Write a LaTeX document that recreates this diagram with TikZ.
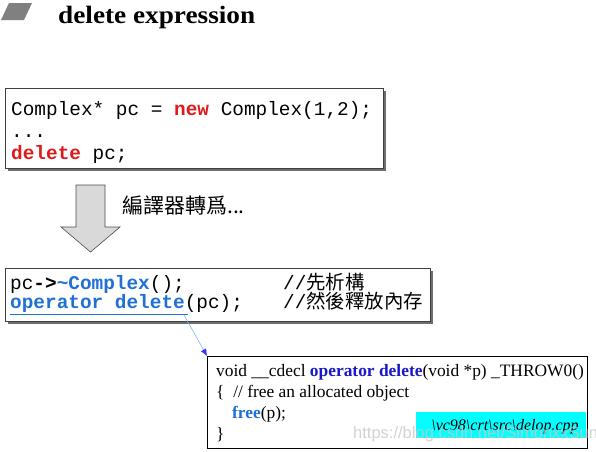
\documentclass[tikz,border=0pt]{standalone}
\usepackage{fontspec}
\setmainfont{Liberation Serif}
\newfontfamily\titlefont[FakeStretch=1.09]{Liberation Serif}
\newfontfamily\codefont{Liberation Mono}
\newfontfamily\cjk{Noto Sans CJK TC}
\newfontfamily\wmfont{Liberation Sans}
\usetikzlibrary{arrows.meta}
\definecolor{kwred}{RGB}{222,26,26}
\definecolor{kwblue}{RGB}{32,112,214}
\definecolor{opblue}{RGB}{24,24,200}
\definecolor{arrowgray}{RGB}{217,217,217}
\definecolor{iconGray}{RGB}{128,128,128}
\definecolor{shadowgray}{RGB}{110,110,110}
\definecolor{cyanbox}{RGB}{0,255,255}
\definecolor{linkblue}{RGB}{120,170,230}
\begin{document}
\begin{tikzpicture}[x=1pt,y=-1pt,
  code/.style={anchor=base west,inner sep=0pt,font=\fontsize{19.4}{19.4}\selectfont\codefont},
  cjktext/.style={anchor=base west,inner sep=0pt,font=\fontsize{21}{21}\selectfont\cjk},
  serifcode/.style={anchor=base west,inner sep=0pt,font=\fontsize{17.4}{17.4}\selectfont},
  codebox/.style={draw=black!75,line width=0.8pt,fill=white,inner sep=0pt,anchor=north west},
  shadow/.style={fill=shadowgray,draw=none}]
\useasboundingbox (0,0) rectangle (596,451);
% title
\fill[iconGray] (1,20) -- (9,3) -- (32,3) -- (24,20) -- cycle;
\node[anchor=base west,inner sep=0pt,font=\fontsize{25}{25}\selectfont\titlefont\bfseries] (title) at (58,23) {delete expression};
% box 1
\fill[shadow] (8,91) rectangle (386,171);
\node[codebox,minimum width=378,minimum height=80] (b1) at (5,88) {};
\node[code] (l1) at (11,115) {Complex* pc = \textcolor{kwred}{\bfseries new} Complex(1,2);};
\node[code] (l2) at (11,137) {...};
\node[code] (l3) at (11,159) {\textcolor{kwred}{\bfseries delete} pc;};
% arrow
\draw[fill=arrowgray,draw=black!70,line width=0.6pt] (76,185) -- (105,185) -- (105,227) -- (120,227) -- (90.5,252) -- (61,227) -- (76,227) -- cycle;
\node[cjktext] (trans) at (122,213) {編譯器轉爲...};
% box 2
\fill[shadow] (8,271) rectangle (433,324);
\node[codebox,minimum width=425,minimum height=53] (b2) at (5,268) {};
\node[code] (m1) at (10,289) {pc\textbf{->}\textcolor{kwblue}{\bfseries\textasciitilde Complex}();};
\node[code] (m2) at (10,308) {\textcolor{kwblue}{\bfseries operator delete}(pc);};
\node[code] (c1) at (283,289) {//{\cjk 先析構}};
\node[code] (c2) at (283,308) {//{\cjk 然後釋放內存}};
\draw[kwblue,line width=0.8pt] (10,314) -- (188,314);
\coordinate (lk) at (184,315);
% box 3
\node[draw=black,line width=1pt,fill=white,inner sep=0pt,anchor=north west,minimum width=380,minimum height=92] (b3) at (207,356) {};
\node[serifcode] (n1) at (216,376) {void \_\_cdecl \textcolor{opblue}{\bfseries operator delete}(void *p) \_THROW0()};
\node[serifcode] (n2) at (216,397) {\{\ \ // free an allocated object};
\node[serifcode] (n3) at (232,418) {\textcolor{kwblue}{\bfseries free}(p);};
\node[serifcode] (n4) at (216,439) {\}};
\node[fill=cyanbox,inner sep=0pt,minimum width=170,minimum height=26,anchor=north west] (src) at (416,412) {};
\node[anchor=base,inner sep=0pt,font=\fontsize{16}{16}\selectfont\itshape] (srct) at (505,430) {\textbackslash vc98\textbackslash crt\textbackslash src\textbackslash delop.cpp};
\node[anchor=base west,inner sep=0pt,font=\fontsize{16.5}{16.5}\selectfont\wmfont,text=black!22,opacity=0.8] (wm) at (353,438) {https://blog.csdn.net/SimonxxSun};
% connector
\draw[linkblue,line width=0.5pt,-{Latex[length=7pt,width=6pt,color=blue!80]}] (lk) -- (b3.north west);
\end{tikzpicture}
\end{document}
